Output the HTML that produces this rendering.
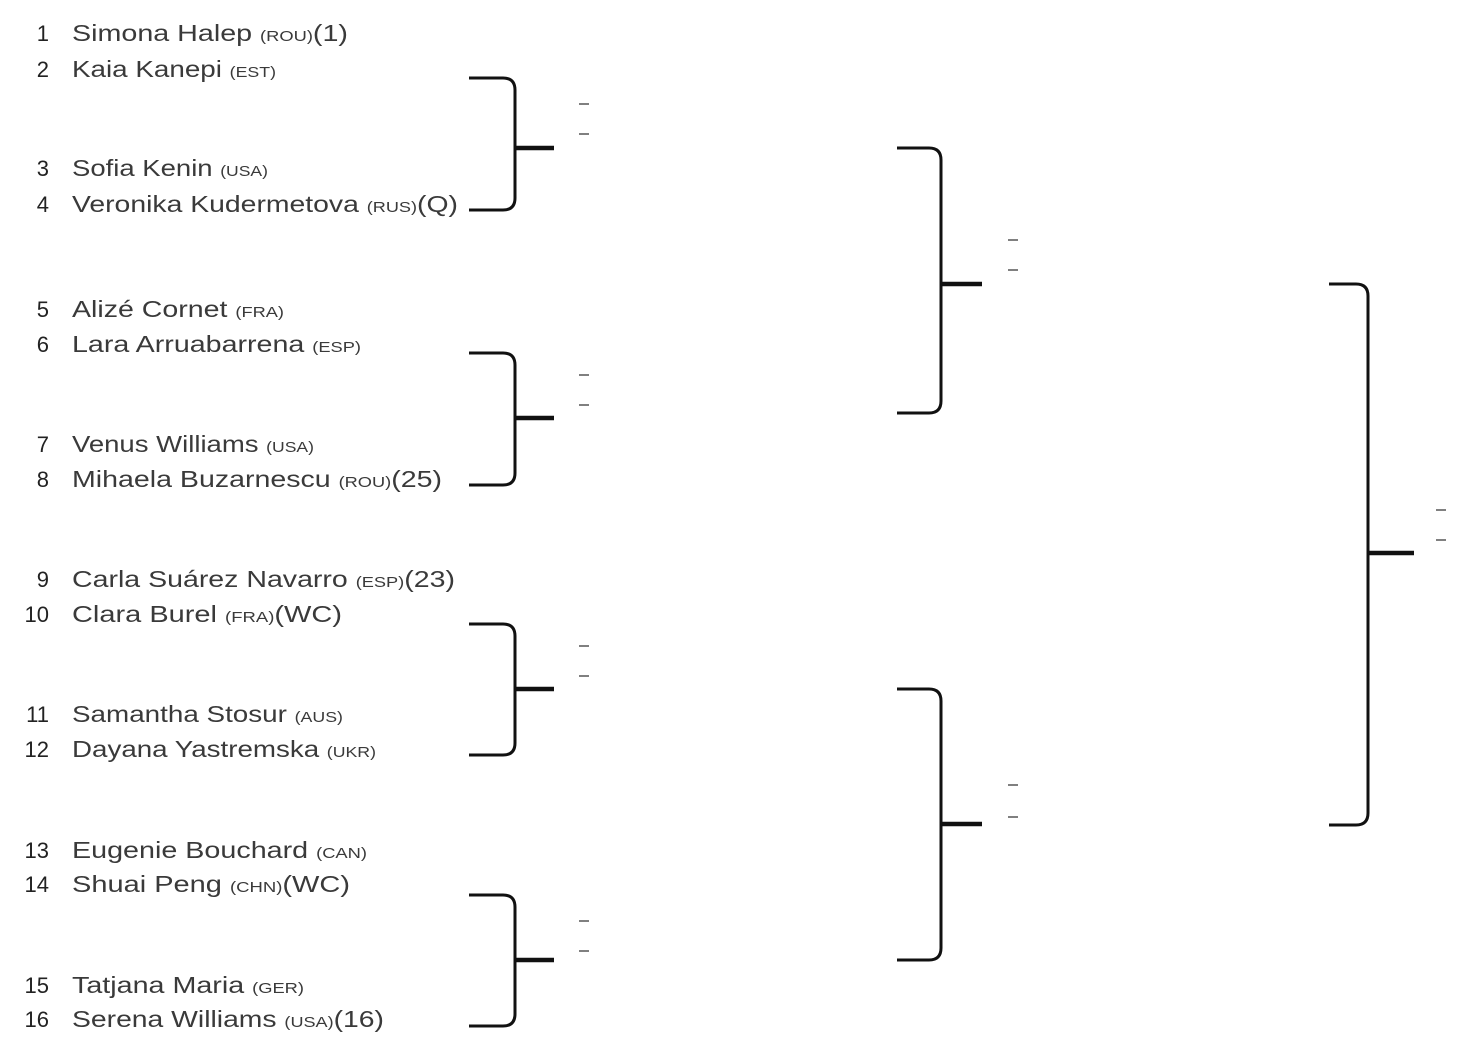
<!DOCTYPE html>
<html><head><meta charset="utf-8"><style>
html,body{margin:0;padding:0;background:#fff;}
svg{display:block;}
text{font-family:"Liberation Sans",sans-serif;fill:#3a3a3a;}
.n{font-size:22px;text-anchor:end;fill:#222;}
.p{font-size:23.5px;}
.c{font-size:15px;}
.br{fill:none;stroke:#111;stroke-width:3;}
.st{stroke:#111;stroke-width:4.5;}
.d{stroke:#555;stroke-width:1.5;}
</style></head><body>
<svg width="1460" height="1064" viewBox="0 0 1460 1064">
<g>
<text class="n" x="49" y="41">1</text><text class="p" x="72" y="41" textLength="276" lengthAdjust="spacingAndGlyphs">Simona Halep <tspan class="c">(ROU)</tspan>(1)</text>
<text class="n" x="49" y="77">2</text><text class="p" x="72" y="77" textLength="204" lengthAdjust="spacingAndGlyphs">Kaia Kanepi <tspan class="c">(EST)</tspan></text>
<text class="n" x="49" y="176">3</text><text class="p" x="72" y="176" textLength="196" lengthAdjust="spacingAndGlyphs">Sofia Kenin <tspan class="c">(USA)</tspan></text>
<text class="n" x="49" y="212">4</text><text class="p" x="72" y="212" textLength="386" lengthAdjust="spacingAndGlyphs">Veronika Kudermetova <tspan class="c">(RUS)</tspan>(Q)</text>
<text class="n" x="49" y="317">5</text><text class="p" x="72" y="317" textLength="212" lengthAdjust="spacingAndGlyphs">Alizé Cornet <tspan class="c">(FRA)</tspan></text>
<text class="n" x="49" y="352">6</text><text class="p" x="72" y="352" textLength="289" lengthAdjust="spacingAndGlyphs">Lara Arruabarrena <tspan class="c">(ESP)</tspan></text>
<text class="n" x="49" y="452">7</text><text class="p" x="72" y="452" textLength="242" lengthAdjust="spacingAndGlyphs">Venus Williams <tspan class="c">(USA)</tspan></text>
<text class="n" x="49" y="487">8</text><text class="p" x="72" y="487" textLength="370" lengthAdjust="spacingAndGlyphs">Mihaela Buzarnescu <tspan class="c">(ROU)</tspan>(25)</text>
<text class="n" x="49" y="587">9</text><text class="p" x="72" y="587" textLength="383" lengthAdjust="spacingAndGlyphs">Carla Suárez Navarro <tspan class="c">(ESP)</tspan>(23)</text>
<text class="n" x="49" y="622">10</text><text class="p" x="72" y="622" textLength="270" lengthAdjust="spacingAndGlyphs">Clara Burel <tspan class="c">(FRA)</tspan>(WC)</text>
<text class="n" x="49" y="722">11</text><text class="p" x="72" y="722" textLength="271" lengthAdjust="spacingAndGlyphs">Samantha Stosur <tspan class="c">(AUS)</tspan></text>
<text class="n" x="49" y="757">12</text><text class="p" x="72" y="757" textLength="304" lengthAdjust="spacingAndGlyphs">Dayana Yastremska <tspan class="c">(UKR)</tspan></text>
<text class="n" x="49" y="858">13</text><text class="p" x="72" y="858" textLength="295" lengthAdjust="spacingAndGlyphs">Eugenie Bouchard <tspan class="c">(CAN)</tspan></text>
<text class="n" x="49" y="892">14</text><text class="p" x="72" y="892" textLength="278" lengthAdjust="spacingAndGlyphs">Shuai Peng <tspan class="c">(CHN)</tspan>(WC)</text>
<text class="n" x="49" y="993">15</text><text class="p" x="72" y="993" textLength="232" lengthAdjust="spacingAndGlyphs">Tatjana Maria <tspan class="c">(GER)</tspan></text>
<text class="n" x="49" y="1027">16</text><text class="p" x="72" y="1027" textLength="312" lengthAdjust="spacingAndGlyphs">Serena Williams <tspan class="c">(USA)</tspan>(16)</text>
</g>
<!-- R1 -->
<path class="br" d="M469 78 H503 Q515 78 515 90 V198 Q515 210 503 210 H469"/><line class="st" x1="515" y1="148" x2="554" y2="148"/>
<path class="br" d="M469 353 H503 Q515 353 515 365 V473 Q515 485 503 485 H469"/><line class="st" x1="515" y1="418" x2="554" y2="418"/>
<path class="br" d="M469 624 H503 Q515 624 515 636 V743 Q515 755 503 755 H469"/><line class="st" x1="515" y1="689" x2="554" y2="689"/>
<path class="br" d="M469 895 H503 Q515 895 515 907 V1014 Q515 1026 503 1026 H469"/><line class="st" x1="515" y1="960" x2="554" y2="960"/>
<g class="d">
<line x1="579" y1="104" x2="589" y2="104"/><line x1="579" y1="134" x2="589" y2="134"/>
<line x1="579" y1="375" x2="589" y2="375"/><line x1="579" y1="405" x2="589" y2="405"/>
<line x1="579" y1="646" x2="589" y2="646"/><line x1="579" y1="676" x2="589" y2="676"/>
<line x1="579" y1="921" x2="589" y2="921"/><line x1="579" y1="951" x2="589" y2="951"/>
</g>
<!-- R2 -->
<path class="br" d="M897 148 H929 Q941 148 941 160 V401 Q941 413 929 413 H897"/><line class="st" x1="941" y1="284" x2="982" y2="284"/>
<path class="br" d="M897 689 H929 Q941 689 941 701 V948 Q941 960 929 960 H897"/><line class="st" x1="941" y1="824" x2="982" y2="824"/>
<g class="d">
<line x1="1008" y1="240" x2="1018" y2="240"/><line x1="1008" y1="270" x2="1018" y2="270"/>
<line x1="1008" y1="785" x2="1018" y2="785"/><line x1="1008" y1="817" x2="1018" y2="817"/>
</g>
<!-- R3 -->
<path class="br" d="M1329 284 H1356 Q1368 284 1368 296 V813 Q1368 825 1356 825 H1329"/><line class="st" x1="1368" y1="553" x2="1414" y2="553"/>
<g class="d"><line x1="1436" y1="510" x2="1446" y2="510"/><line x1="1436" y1="540" x2="1446" y2="540"/></g>
</svg>
</body></html>
